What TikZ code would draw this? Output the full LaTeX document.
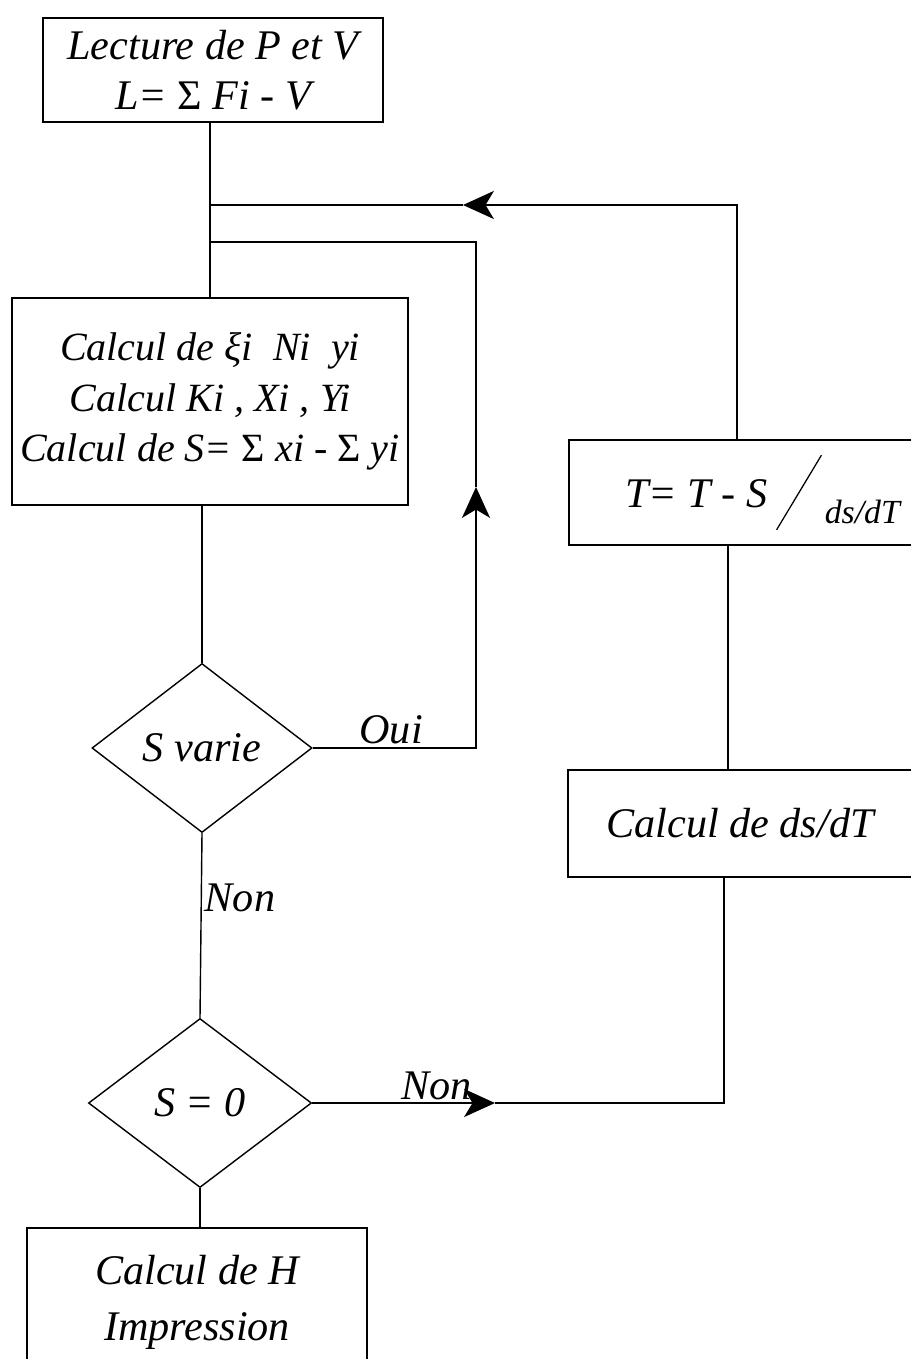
\documentclass[tikz,border=0pt]{standalone}
\usepackage{fontspec}
\setmainfont{Liberation Serif}
\usetikzlibrary{shapes.geometric,arrows.meta}
\begin{document}
\begin{tikzpicture}[x=0.025cm,y=-0.025cm,
  txt/.style={font=\itshape\fontsize{30}{36}\selectfont},
  box/.style={txt,draw,line width=1pt,rectangle,align=center,inner sep=0pt},
  dia/.style={txt,draw,line width=1pt,diamond,inner sep=0pt},
  conn/.style={line width=1pt},
  arr/.style={conn,-{Stealth[length=22pt,width=20pt,inset=6pt]}},
  lbl/.style={txt,inner sep=2pt}
]
\useasboundingbox (0,0) rectangle (910,1359);
% boxes
\node[box,minimum width=8.5cm,minimum height=2.6cm] (b1) at (213,70)
  {Lecture de P et V\\L= {\upshape Σ} Fi - V};
\node[box,minimum width=9.9cm,minimum height=5.175cm,font=\itshape\fontsize{28.5}{36}\selectfont] (b2) at (210,401.5)
  {Calcul de ξi~ Ni~ yi\\Calcul Ki , Xi , Yi\\Calcul de S= {\upshape Σ} xi - {\upshape Σ} yi};
\node[dia,minimum width=5.5cm,minimum height=4.225cm] (d1) at (202,748) {S varie};
\node[dia,minimum width=5.575cm,minimum height=4.225cm] (d2) at (200,1103) {S = 0};
\node[box,minimum width=8.5cm,minimum height=3.7cm,align=center,font=\itshape\fontsize{30}{40}\selectfont] (bH) at (197,1302)
  {Calcul de H\\Impression};
\node[box,minimum width=9.4cm,minimum height=2.625cm] (bT) at (757,492.5)
  {\hspace{8pt}T= T - S\hspace{6pt}\raisebox{-16pt}{\rotatebox{-31}{\rule{0.9pt}{62pt}}}\hspace{2pt}\raisebox{-12pt}{\fontsize{24}{24}\selectfont ds/dT}};
\node[box,minimum width=8.6cm,minimum height=2.675cm] (bD) at (740,823.5)
  {Calcul de ds/dT};
% helper coordinates
\coordinate (xt) at (210,0);
\coordinate (j1) at (210,205);
\coordinate (j2) at (210,242);
\coordinate (a1) at (463,205);
\coordinate (a2) at (476,487);
\coordinate (a3) at (495,1103);
\coordinate (xr1) at (737,0);
\coordinate (xr2) at (728,0);
\coordinate (xr3) at (724,0);
% trunk
\draw[conn] (b1.south -| xt) -- (b2.north -| xt);
\draw[conn] (b2.south -| d1.north) -- (d1.north);
\draw[conn] (d1.south) -- node[lbl,right,pos=0.35]{Non} (d2.north);
\draw[conn] (d2.south) -- (bH.north -| d2.south);
% oui loop
\draw[arr] (d1.east) -| node[lbl,above,pos=0.24]{Oui} (a2);
\draw[conn] (a2) |- (j2);
% non loop
\draw[arr] (d2.east) -- node[lbl,above,pos=0.68]{Non} (a3);
\draw[conn] (a3) -| (bD.south -| xr3);
\draw[conn] (bD.north -| xr2) -- (bT.south -| xr2);
\draw[arr] (bT.north -| xr1) |- (a1);
\draw[conn] (a1) -- (j1);
\end{tikzpicture}
\end{document}
